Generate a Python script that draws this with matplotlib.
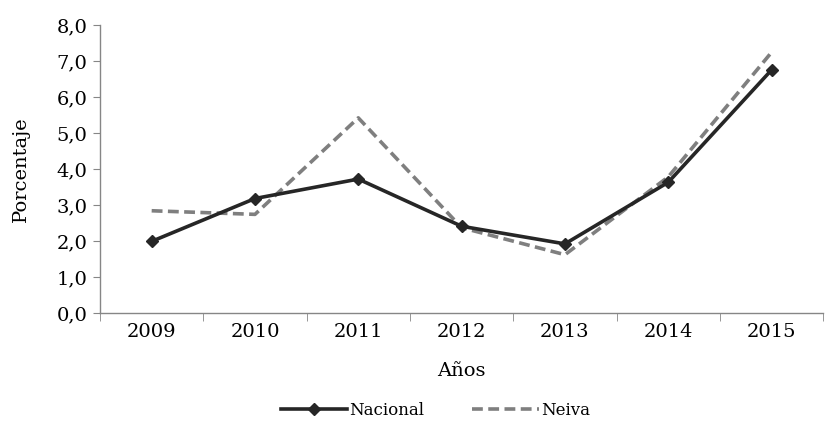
import matplotlib
matplotlib.use("Agg")
import matplotlib.pyplot as plt
from matplotlib.ticker import FuncFormatter, FixedLocator

years = ["2009", "2010", "2011", "2012", "2013", "2014", "2015"]
nacional = [1.99, 3.18, 3.72, 2.41, 1.92, 3.63, 6.75]
neiva = [2.84, 2.74, 5.42, 2.37, 1.62, 3.78, 7.24]

plt.rcParams['font.family'] = ['DejaVu Serif']
fig = plt.figure(figsize=(8.37, 4.23), dpi=100)
ax = fig.add_axes([0.1195, 0.26, 0.864, 0.681])

x = list(range(len(years)))
ax.plot(x, nacional, color="#262626", lw=2.6, marker="D", ms=6, label="Nacional", zorder=3)
ax.plot(x, neiva, color="#7f7f7f", lw=2.6, ls=(0, (3, 1.5)), label="Neiva", zorder=2)

ax.set_xlim(-0.5, len(years) - 0.5)
ax.set_ylim(0, 8)
ax.set_yticks([i for i in range(9)])
ax.yaxis.set_major_formatter(FuncFormatter(lambda v, p: f"{v:.1f}".replace(".", ",")))
ax.set_xticks(x)
ax.set_xticklabels(years)
ax.xaxis.set_minor_locator(FixedLocator([i - 0.5 for i in range(len(years) + 1)]))
ax.tick_params(axis="x", which="major", length=0, pad=7, labelsize=14)
ax.tick_params(axis="x", which="minor", length=6, color="#868686", direction="out")
ax.tick_params(axis="y", length=5, color="#868686", labelsize=14, pad=4)
for s in ["top", "right"]:
    ax.spines[s].set_visible(False)
for s in ["left", "bottom"]:
    ax.spines[s].set_color("#868686")
    ax.spines[s].set_linewidth(1.0)

ax.set_xlabel("Años", fontsize=14, labelpad=15)
ax.set_ylabel("Porcentaje", fontsize=14)
ax.yaxis.set_label_coords(-0.097, 0.5)

fig.legend(loc="center", bbox_to_anchor=(0.52, 0.03), ncol=2, frameon=False,
           fontsize=12, handlelength=4.0, columnspacing=2.9, handletextpad=0.1)

fig.savefig("out.png", dpi=100)
